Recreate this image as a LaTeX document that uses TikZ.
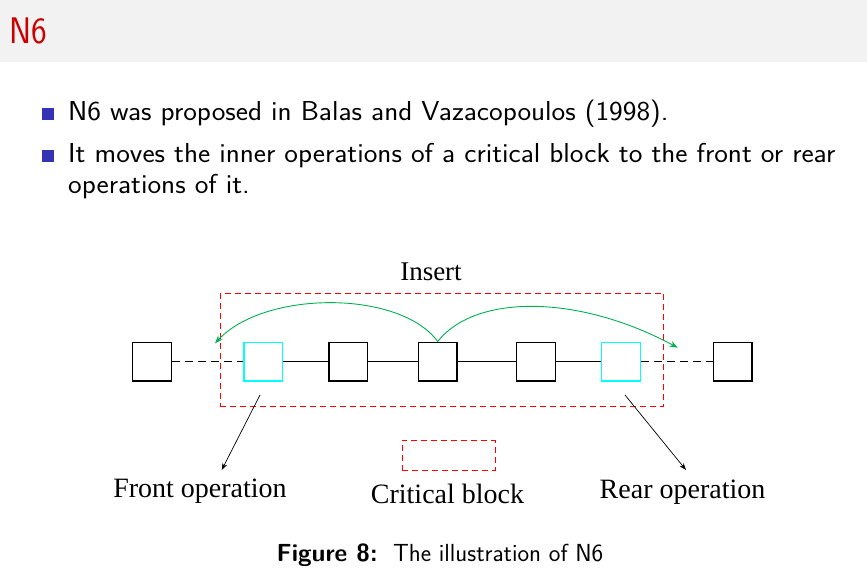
\documentclass[tikz,border=0pt]{standalone}
\usepackage{fontspec}
\newfontfamily\tnr{Liberation Serif}
\usetikzlibrary{arrows.meta}
\definecolor{titlered}{RGB}{204,0,0}
\definecolor{bulletblue}{RGB}{51,51,179}
\definecolor{bandgray}{RGB}{242,242,242}
\definecolor{arrowgreen}{RGB}{0,176,80}
\definecolor{opcyan}{RGB}{0,255,255}
\definecolor{critred}{RGB}{255,0,0}
\newcommand{\widetext}[1]{\scalebox{1.06}[1]{#1}}
\tikzset{
  opbox/.style={draw=black, line width=1.4pt, minimum size=38.6pt, inner sep=0pt, fill=white},
  cyanbox/.style={opbox, draw=opcyan},
  critbox/.style={draw=critred, line width=0.9pt, dash pattern=on 6pt off 4pt, inner sep=0pt},
  link/.style={line width=0.9pt},
  dashlink/.style={line width=0.9pt, dash pattern=on 8pt off 5pt},
  movearrow/.style={draw=arrowgreen, line width=0.9pt, -{Stealth[length=8pt,width=6pt]}},
  pointer/.style={line width=0.7pt, -{Stealth[length=7pt,width=5pt]}},
  bullet/.style={fill=bulletblue, minimum size=12pt, inner sep=0pt},
  bodytext/.style={anchor=base west, inner sep=0pt, font=\sffamily\fontsize{27.4}{31.5}\selectfont},
  label/.style={inner sep=0pt, font=\tnr\fontsize{28}{30}\selectfont}
}
\begin{document}
\begin{tikzpicture}[x=1pt,y=-1pt]
\useasboundingbox (0,0) rectangle (867,578);
\fill[bandgray] (0,0) rectangle (867,62);
\node[anchor=base west, inner sep=0pt, text=titlered, font=\sffamily\fontsize{37}{40}\selectfont] (title) at (9,44) {\scalebox{0.9}[1]{N6}};

\node[bullet] (bu1) at (48.3,114) {};
\node[bodytext] (t1) at (68,120) {\widetext{N6 was proposed in Balas and Vazacopoulos (1998).}};
\node[bullet] (bu2) at (48.3,155.5) {};
\node[bodytext] (t2) at (68,162) {\widetext{It moves the inner operations of a critical block to the front or rear}};
\node[bodytext] (t3) at (68,193.5) {\widetext{operations of it.}};

% critical block frame
\node[critbox, minimum width=443.7pt, minimum height=113.4pt] (crit) at (441.85,350) {};
\node[label, anchor=base, font=\tnr\fontsize{27}{30}\selectfont] (insert) at (431,280.7) {Insert};

% operations
\node[opbox] (b1) at (152,361.5) {};
\node[cyanbox] (b2) at (263.3,361.5) {};
\node[opbox] (b3) at (348.3,361.5) {};
\node[opbox] (b4) at (437.7,361.5) {};
\node[opbox] (b5) at (536,361.5) {};
\node[cyanbox] (b6) at (621,361.5) {};
\node[opbox] (b7) at (732.7,361.5) {};

\draw[dashlink] (b1.east) -- (b2.west);
\draw[link] (b2.east) -- (b3.west);
\draw[link] (b3.east) -- (b4.west);
\draw[link] (b4.east) -- (b5.west);
\draw[link] (b5.east) -- (b6.west);
\draw[dashlink] (b6.east) -- (b7.west);

% insertion arrows
\coordinate (lefttip) at (215,343.3);
\coordinate (righttip) at (677.7,347.7);
\draw[movearrow] (b4.north) .. controls (400,290) and (265,290) .. (lefttip);
\draw[movearrow] (b4.north) .. controls (475,294) and (578,294) .. (righttip);

% legend
\node[critbox, minimum width=92.7pt, minimum height=29.7pt] (legend) at (448.65,455.15) {};

% labels
\node[label, anchor=base] (front) at (200,497) {Front operation};
\node[label, anchor=base] (critlabel) at (447.5,503) {Critical block};
\node[label, anchor=base] (rear) at (682.5,498) {Rear operation};

\coordinate (fs) at (260,395);
\coordinate (fe) at (221.7,470);
\coordinate (rs) at (625,395);
\coordinate (re) at (686,470);
\draw[pointer] (fs) -- (fe);
\draw[pointer] (rs) -- (re);

% caption
\node[anchor=base, inner sep=0pt, font=\sffamily\fontsize{24.7}{28}\selectfont] (caption) at (440,561) {{\bfseries Figure 8:}\ \ The illustration of N6};
\end{tikzpicture}
\end{document}
